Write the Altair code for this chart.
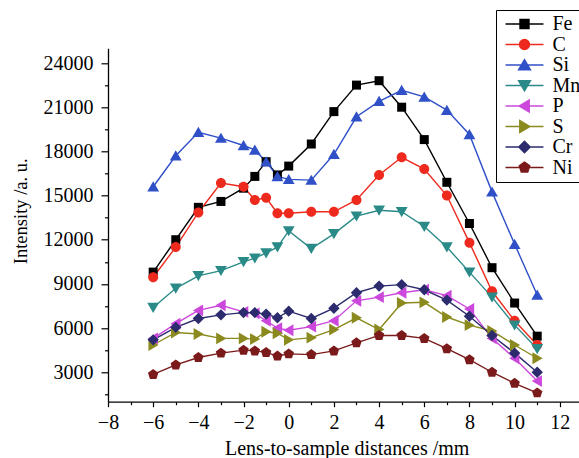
import altair as alt
import pandas as pd

# ---- data ----
distance = [-6, -5, -4, -3, -2, -1.5, -1, -0.5, 0, 1, 2, 3, 4, 5, 6, 7, 8, 9, 10, 11]

elements = ["Fe", "C", "Si", "Mn", "P", "S", "Cr", "Ni"]

fe = [9800, 12000, 14200, 14600, 15500, 16300, 17300, 16400, 17000, 18500,
      20700, 22500, 22800, 21000, 18800, 15900, 13100, 10100, 7700, 5450]
c = [9450, 11500, 13850, 15850, 15600, 14700, 14850, 13800, 13800, 13900,
     13900, 14700, 16400, 17600, 16800, 15000, 11800, 8500, 6500, 4850]
si = [15600, 17700, 19300, 18900, 18400, 18100, 17300, 16300, 16100, 16050,
      17800, 20350, 21400, 22150, 21700, 20800, 19150, 15250, 11700, 8250]
mn = [7400, 8700, 9550, 9900, 10500, 10750, 11100, 11500, 12600, 11400,
      12400, 13600, 14000, 13900, 12900, 11500, 9800, 8100, 6200, 4600]
p = [5300, 6300, 7200, 7550, 7100, 7000, 6500, 6000, 5850, 6100,
     6500, 7850, 8100, 8400, 8600, 8200, 7300, 5300, 3950, 2400]
s = [4850, 5700, 5600, 5300, 5300, 5250, 5750, 5650, 5200, 5350,
     5900, 6700, 5900, 7700, 7750, 6750, 6200, 5800, 4850, 3950]
cr = [5200, 6050, 6650, 6900, 7050, 7050, 6950, 6700, 7150, 6650,
      7350, 8400, 8850, 8950, 8600, 7900, 6800, 5500, 4300, 3000]
ni = [2850, 3500, 4000, 4300, 4500, 4450, 4350, 4100, 4250, 4200,
      4450, 5000, 5500, 5500, 5300, 4600, 3850, 3000, 2250, 1600]

series = [fe, c, si, mn, p, s, cr, ni]

x_major = [-8, -6, -4, -2, 0, 2, 4, 6, 8, 10, 12]
x_minor = [-7, -5, -3, -1, 1, 3, 5, 7, 9, 11]
y_major = [3000, 6000, 9000, 12000, 15000, 18000, 21000, 24000]
y_minor = [1500, 4500, 7500, 10500, 13500, 16500, 19500, 22500]

# ---- styling ----
colors = ["#000000", "#ee2a1e", "#3050c8", "#2a8a88", "#cc48dc", "#8a8a1e", "#2b2b6e", "#7b1a1a"]

marker_paths = [
    "M-0.95,-0.95H0.95V0.95H-0.95Z",
    "M1.05,0A1.05,1.05,0,1,1,-1.05,0A1.05,1.05,0,1,1,1.05,0Z",
    "M0,-1.15L1.25,1.0L-1.25,1.0Z",
    "M0,1.15L1.25,-1.0L-1.25,-1.0Z",
    "M-1.15,0L1.0,-1.25L1.0,1.25Z",
    "M1.15,0L-1.0,-1.25L-1.0,1.25Z",
    "M0,-1.2L1.2,0L0,1.2L-1.2,0Z",
    "M0,-1.15L1.1,-0.35L0.68,0.95L-0.68,0.95L-1.1,-0.35Z",
]
legend_paths = ["M-4.0,0H4.0" + mp for mp in marker_paths]

FONT = "Liberation Serif"

rows = []
for el, vals in zip(elements, series):
    for i, (xv, yv) in enumerate(zip(distance, vals)):
        rows.append({"Element": el, "order": elements.index(el), "d": xv, "I": yv})
df = pd.DataFrame(rows)

xscale = alt.Scale(domain=[-8, 12.85], nice=False, zero=False)
yscale = alt.Scale(domain=[1000, 25000], nice=False, zero=False)

x_axis = alt.Axis(values=x_major, title="Lens-to-sample distances /mm", grid=False,
                  tickSize=5, labelPadding=6, labelFontSize=20, labelFont=FONT,
                  titleFont=FONT, titleFontSize=20, titleFontWeight="normal",
                  titleX=238.7, titleY=53, titleBaseline="alphabetic",
                  labelFlush=False, labelOverlap=False)
y_axis = alt.Axis(values=y_major, title="Intensity /a. u.", format="d", grid=False,
                  tickSize=7, labelPadding=8, labelFontSize=20, labelFont=FONT,
                  titleFont=FONT, titleFontSize=18.5, titleFontWeight="normal",
                  titleX=-87.3, titleY=162.5, titleBaseline="middle", titleAngle=270,
                  labelFlush=False, labelOverlap=False)

color_sc = alt.Scale(domain=elements, range=colors)

lines = alt.Chart(df).mark_line(strokeWidth=1.4).encode(
    x=alt.X("d:Q", scale=xscale, axis=x_axis),
    y=alt.Y("I:Q", scale=yscale, axis=y_axis),
    color=alt.Color("Element:N", scale=color_sc, legend=None),
    detail="Element:N",
    order="d:Q",
)

points = alt.Chart(df).mark_point(filled=True, size=90, opacity=1).encode(
    x=alt.X("d:Q", scale=xscale, axis=None),
    y=alt.Y("I:Q", scale=yscale, axis=None),
    color=alt.Color("Element:N", scale=color_sc, legend=None),
    shape=alt.Shape("Element:N", scale=alt.Scale(domain=elements, range=marker_paths), legend=None),
    order="order:Q",
)

legend = alt.Legend(
    title=None, orient="none", legendX=388, legendY=-38.3,
    padding=4, symbolSize=90, symbolStrokeWidth=1.4, symbolOffset=14.5,
    labelOffset=18, labelFont=FONT, labelFontSize=20, labelFontWeight="normal",
    rowPadding=0.5, strokeColor="black", fillColor="white",
    labelExpr="datum.label + '\u2003\u2003'",
)

legend_layer = alt.Chart(df).transform_filter("datum.d > 1000").mark_point(
    size=90, strokeWidth=1.4, opacity=1
).encode(
    x=alt.X("d:Q", scale=xscale,
            axis=alt.Axis(values=x_minor, labels=False, domain=False, tickSize=3,
                          title=None, grid=False, orient="bottom")),
    y=alt.Y("I:Q", scale=yscale,
            axis=alt.Axis(values=y_minor, labels=False, domain=False, tickSize=3.5,
                          title=None, grid=False, orient="left")),
    fill=alt.Fill("Element:N", scale=alt.Scale(domain=elements, range=colors), legend=legend),
    stroke=alt.Stroke("Element:N", scale=alt.Scale(domain=elements, range=colors), legend=legend),
    shape=alt.Shape("Element:N", scale=alt.Scale(domain=elements, range=legend_paths), legend=legend),
)

chart = alt.layer(lines, points, legend_layer).resolve_scale(
    shape="independent", fill="independent", stroke="independent"
).resolve_axis(
    x="independent", y="independent"
).properties(
    width=471, height=353.4,
    autosize=alt.AutoSizeParams(type="none"),
    padding={"left": 108, "top": 48.3, "right": 0, "bottom": 56.3},
    background="white",
).configure(font=FONT).configure_view(stroke=None).configure_axis(
    domainColor="black", tickColor="black", labelColor="black", titleColor="black",
    domainWidth=1.3, tickWidth=1.2,
).configure_legend(
    labelFont=FONT, labelFontSize=20, labelColor="black",
)

chart.save("out.html", embed_options={"renderer": "svg", "actions": False})
